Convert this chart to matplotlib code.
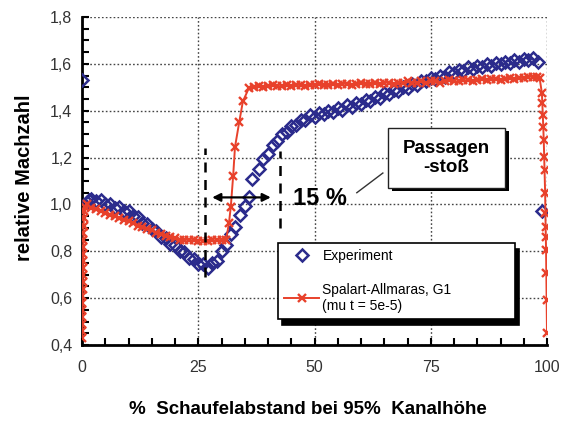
import matplotlib
matplotlib.use("Agg")
import matplotlib.pyplot as plt
from matplotlib.patches import Rectangle
from matplotlib.ticker import MultipleLocator, FuncFormatter

plt.rcParams['font.family'] = ['Liberation Sans', 'DejaVu Sans']

# Experiment: relative Mach number across the blade pitch
exp_x = [0, 1, 1.5, 2, 3, 4, 5, 6, 7, 8, 9, 10, 11, 12, 13, 14, 15, 16, 17, 18,
         19, 20, 21, 22, 23, 24, 25, 26, 27, 28, 29, 30, 31, 32, 33, 34, 35, 36,
         36.6, 38, 39, 40, 41, 42, 43, 44, 45, 46, 47, 48, 49, 50, 51, 52, 53,
         54, 55, 56, 57, 58, 59, 60, 61, 62, 63, 64, 65, 66, 67, 68, 69, 70, 71,
         72, 73, 74, 75, 76, 77, 78, 79, 80, 81, 82, 83, 84, 85, 86, 87, 88, 89,
         90, 91, 92, 93, 94, 95, 96, 97, 98, 99]
exp_y = [1.53, 1.01, 1.02, 1.025, 1.015, 1.02, 1.0, 1.0, 0.985, 0.99, 0.97,
         0.97, 0.95, 0.945, 0.92, 0.915, 0.895, 0.885, 0.86, 0.855, 0.83,
         0.825, 0.80, 0.795, 0.77, 0.765, 0.745, 0.745, 0.73, 0.75, 0.76,
         0.80, 0.825, 0.875, 0.905, 0.955, 0.995, 1.03, 1.11, 1.15, 1.195,
         1.215, 1.255, 1.27, 1.30, 1.31, 1.335, 1.34, 1.36, 1.36, 1.38, 1.375,
         1.39, 1.385, 1.40, 1.395, 1.41, 1.405, 1.425, 1.415, 1.435, 1.43,
         1.445, 1.44, 1.46, 1.455, 1.475, 1.47, 1.49, 1.485, 1.50, 1.495, 1.515,
         1.51, 1.525, 1.525, 1.54, 1.535, 1.55, 1.545, 1.565, 1.56, 1.575,
         1.57, 1.585, 1.58, 1.59, 1.585, 1.60, 1.59, 1.605, 1.60, 1.61, 1.605,
         1.615, 1.61, 1.62, 1.615, 1.625, 1.61, 0.97]

# Spalart-Allmaras simulation, grid G1
sa_x = [0.0, 0.0, 0.05, 0.05, 0.1, 0.1, 0.1, 0.15, 0.15, 0.2, 0.2, 0.2, 0.25,
        0.25, 0.3, 0.3, 0.35, 0.4, 0.45, 0.6, 1.0, 2, 3, 4, 5, 6, 7, 8, 9, 10,
        11, 12, 13, 14, 15, 16, 17, 18, 19, 20, 21, 22, 23, 24, 25, 26, 27,
        28, 29, 30, 31, 31.6, 32.0, 32.5, 32.9, 33.8, 34.6, 35.9, 37, 38, 39,
        40, 41, 42, 43, 44, 45, 46, 47, 48, 49, 50, 51, 52, 53, 54, 55, 56, 57,
        58, 59, 60, 61, 62, 63, 64, 65, 66, 67, 68, 69, 70, 71, 72, 73, 74, 75,
        76, 77, 78, 79, 80, 81, 82, 83, 84, 85, 86, 87, 88, 89, 90, 91, 92, 93,
        94, 95, 96, 97, 97.8, 98.4, 98.9, 99.0, 99.1, 99.2, 99.3, 99.4, 99.5,
        99.6, 99.65, 99.7, 99.75, 99.8, 99.85, 99.9, 100.0]
sa_y = [0.43, 0.46, 0.49, 0.52, 0.55, 0.58, 0.61, 0.64, 0.67, 0.70, 0.73,
        0.76, 0.79, 0.82, 0.85, 0.88, 0.91, 0.94, 0.97, 0.99, 1.0, 0.985,
        0.98, 0.97, 0.965, 0.955, 0.95, 0.94, 0.935, 0.93, 0.92, 0.91, 0.905,
        0.895, 0.89, 0.88, 0.875, 0.865, 0.86, 0.855, 0.85, 0.85, 0.848,
        0.847, 0.846, 0.846, 0.846, 0.847, 0.847, 0.848, 0.85, 0.92, 0.99,
        1.12, 1.245, 1.35, 1.44, 1.497, 1.50, 1.505, 1.50, 1.505, 1.51, 1.505,
        1.505, 1.51, 1.505, 1.51, 1.51, 1.505, 1.51, 1.51, 1.515, 1.51, 1.51,
        1.515, 1.51, 1.515, 1.515, 1.51, 1.515, 1.52, 1.515, 1.515, 1.52,
        1.515, 1.52, 1.52, 1.515, 1.52, 1.52, 1.525, 1.52, 1.52, 1.525, 1.52,
        1.525, 1.525, 1.52, 1.525, 1.53, 1.525, 1.525, 1.53, 1.53, 1.525,
        1.53, 1.535, 1.53, 1.535, 1.535, 1.53, 1.535, 1.54, 1.535, 1.54,
        1.54, 1.545, 1.545, 1.545, 1.54, 1.476, 1.433, 1.382, 1.330, 1.275,
        1.203, 1.147, 1.049, 0.963, 0.904, 0.861, 0.805, 0.707, 0.592, 0.451]

x_ticks = [0, 25, 50, 75, 100]
y_ticks = [0.4, 0.6, 0.8, 1.0, 1.2, 1.4, 1.6, 1.8]

blue = '#2b2b8c'
red = '#e8412b'

fig = plt.figure(figsize=(5.63, 4.26), dpi=100)
ax = fig.add_axes([82 / 563, 1 - 345 / 426, 465 / 563, 328 / 426])

ax.plot(exp_x, exp_y, linestyle='none', marker='D', markersize=6.5,
        markerfacecolor='none', markeredgecolor=blue, markeredgewidth=1.8,
        label='Experiment', zorder=3)
ax.plot(sa_x, sa_y, color=red, linewidth=1.4, marker='x', markersize=6,
        markeredgewidth=1.7, label='Spalart-Allmaras, G1\n(mu t = 5e-5)',
        zorder=4)

ax.set_xlim(0, 100)
ax.set_ylim(0.4, 1.8)
ax.set_xticks(x_ticks)
ax.set_yticks(y_ticks)
ax.xaxis.set_minor_locator(MultipleLocator(5))
ax.yaxis.set_minor_locator(MultipleLocator(0.05))
ax.yaxis.set_major_formatter(FuncFormatter(lambda v, p: f"{v:.1f}".replace('.', ',')))
ax.tick_params(which='both', direction='in', length=5, width=1.5,
               labelsize=11.5, labelcolor='#333333', pad=7)
ax.tick_params(axis='x', pad=11)

ax.grid(True, which='major', linestyle=(0, (1.2, 1.6)), color='#444444',
        linewidth=1.0, zorder=0)
for side in ('top', 'right'):
    ax.spines[side].set_visible(False)
for side in ('left', 'bottom'):
    ax.spines[side].set_linewidth(2)
    ax.spines[side].set_color('black')
ax.set_axisbelow(True)

# shock region markers
ax.plot([26.5, 26.5], [0.69, 1.24], color='black', linewidth=1.8,
        linestyle=(0, (4, 3)), zorder=5)
ax.plot([42.6, 42.6], [0.90, 1.23], color='black', linewidth=1.8,
        linestyle=(0, (4, 3)), zorder=5)
ax.annotate('', xy=(41.2, 1.03), xytext=(27.4, 1.03),
            arrowprops=dict(arrowstyle='<|-|>', color='black', lw=1.6,
                            mutation_scale=12), zorder=6)
ax.text(45.3, 1.025, '15 %', fontsize=17, fontweight='bold',
        ha='left', va='center', zorder=6)

# callout box
bx0, by0, bw, bh = 0.658, 0.479, 0.252, 0.183
ax.add_patch(Rectangle((bx0 + 0.008, by0 - 0.011), bw, bh, transform=ax.transAxes,
                       facecolor='black', edgecolor='none', zorder=7))
ax.add_patch(Rectangle((bx0, by0), bw, bh, transform=ax.transAxes,
                       facecolor='white', edgecolor='#222222', linewidth=1.0,
                       zorder=8))
ax.text(bx0 + bw / 2, by0 + bh / 2, 'Passagen\n-stoß', transform=ax.transAxes,
        fontsize=13.5, fontweight='bold', ha='center', va='center',
        linespacing=1.2, zorder=9)
ax.plot([59.1, 64.7], [1.05, 1.134], color='#333333', linewidth=1.0, zorder=6)

leg = ax.legend(loc='upper left', bbox_to_anchor=(0.4215, 0.07, 0.5095, 0.241),
                bbox_transform=ax.transAxes, mode='expand', borderaxespad=0,
                fontsize=10, frameon=True, fancybox=False, numpoints=1,
                handlelength=2.5, labelspacing=1.4, borderpad=0.45,
                handletextpad=0.25,
                shadow={'color': 'black', 'alpha': 1, 'ox': 3, 'oy': -4})
leg.get_frame().set_edgecolor('black')
leg.get_frame().set_linewidth(1.2)
leg.set_zorder(10)

fig.text(308 / 563, 1 - 410 / 426, '%  Schaufelabstand bei 95%  Kanalhöhe',
         fontsize=13.5, fontweight='bold', ha='center', va='center')
fig.text(25 / 563, 1 - 178 / 426, 'relative Machzahl', fontsize=14.5,
         fontweight='bold', ha='center', va='center', rotation=90)

fig.savefig('out.png', dpi=100, facecolor='white')
